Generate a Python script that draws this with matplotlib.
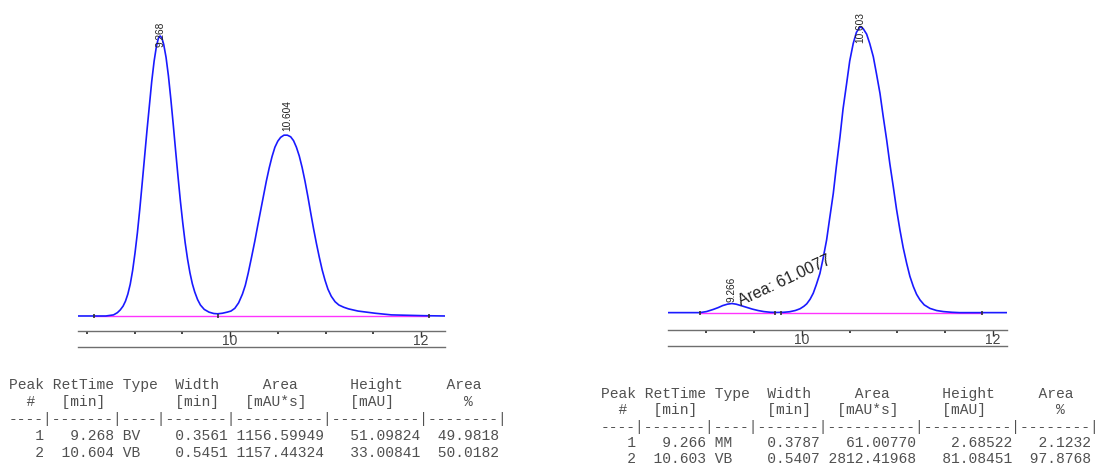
import matplotlib
matplotlib.use("Agg")
import matplotlib.pyplot as plt
from matplotlib.ticker import MultipleLocator, FixedLocator

# ---------------- data ----------------
left_time = [8.41, 8.70, 8.78, 8.82, 8.85, 8.88, 8.905, 8.93, 8.955, 8.98, 9.005, 9.03,
             9.055, 9.08, 9.105, 9.13, 9.155, 9.18, 9.205, 9.23, 9.25, 9.268, 9.285,
             9.305, 9.33, 9.355, 9.38, 9.405, 9.43, 9.455, 9.48, 9.505, 9.53, 9.555,
             9.58, 9.605, 9.63, 9.66, 9.69, 9.73, 9.78, 9.83, 9.87, 9.92, 9.97,
             10.01, 10.05, 10.09, 10.13, 10.16, 10.19, 10.225, 10.26, 10.29, 10.32,
             10.35, 10.38, 10.41, 10.44, 10.47, 10.50, 10.53, 10.565, 10.60, 10.635,
             10.665, 10.695, 10.725, 10.755, 10.785, 10.815, 10.845, 10.875, 10.905,
             10.935, 10.965, 10.995, 11.025, 11.06, 11.10, 11.14, 11.19, 11.24, 11.34,
             11.52, 11.69, 12.04, 12.25]
left_signal = [0.0, 0.0, 0.2, 0.6, 1.1, 1.8, 2.7, 4.0, 5.8, 8.3, 11.5, 15.2,
               19.5, 24.2, 29.0, 33.8, 38.3, 42.8, 46.5, 49.3, 50.7, 51.1, 50.8,
               49.6, 47.2, 43.8, 39.6, 35.0, 30.2, 25.5, 21.0, 17.0, 13.4, 10.4,
               7.9, 5.9, 4.4, 3.0, 2.0, 1.2, 0.7, 0.45, 0.4, 0.5, 0.7,
               0.9, 1.4, 2.4, 4.0, 5.6, 7.8, 10.7, 13.7, 16.5, 19.2,
               21.9, 24.6, 27.0, 29.1, 30.8, 31.9, 32.6, 33.0, 33.0, 32.7,
               32.0, 30.8, 29.2, 27.1, 24.6, 21.8, 18.8, 15.9, 13.2,
               10.7, 8.4, 6.5, 4.9, 3.6, 2.6, 2.0, 1.6, 1.3, 0.9,
               0.5, 0.2, 0.05, 0.0]

right_time = [8.60, 8.93, 9.00, 9.07, 9.12, 9.17, 9.22, 9.266, 9.31, 9.36, 9.42, 9.48,
              9.54, 9.60, 9.67, 9.74, 9.81, 9.87, 9.93, 9.98, 10.02, 10.05, 10.085,
              10.118, 10.15, 10.188, 10.22, 10.258, 10.29, 10.328, 10.36, 10.398, 10.43,
              10.468, 10.50, 10.537, 10.57, 10.607, 10.64, 10.677, 10.71, 10.747, 10.78,
              10.817, 10.85, 10.887, 10.92, 10.956, 10.99, 11.026, 11.06, 11.096, 11.13,
              11.166, 11.20, 11.236, 11.28, 11.34, 11.41, 11.48, 11.57, 11.65, 12.15]
right_signal = [0.1, 0.1, 0.4, 1.0, 1.5, 2.1, 2.5, 2.68, 2.5, 2.1, 1.6, 1.1,
                0.7, 0.4, 0.2, 0.15, 0.2, 0.35, 0.7, 1.2, 1.9, 2.6, 3.9,
                5.6, 8.0, 11.2, 15.3, 20.7, 26.8, 33.9, 41.5, 49.9, 57.8,
                65.1, 71.4, 76.4, 79.5, 81.08, 80.6, 79.0, 76.3, 72.6, 67.8,
                62.2, 55.8, 49.0, 42.3, 35.8, 29.4, 23.5, 18.5, 14.1, 10.4,
                7.5, 5.3, 3.7, 2.3, 1.3, 0.7, 0.4, 0.2, 0.1, 0.1]

left_rt = [9.268, 10.604]
left_height = [51.09824, 33.00841]
left_labels = ["9.268", "10.604"]
left_events = [8.575, 9.87, 12.08]

right_rt = [9.266, 10.603]
right_height = [2.68522, 81.08451]
right_labels = ["9.266", "10.603"]
right_events = [8.93, 9.72, 9.78, 11.88]
right_area_label = "Area: 61.0077"

tick_labels = ["10", "12"]
tick_values = [10, 12]

left_table = [
    "Peak RetTime Type  Width     Area      Height     Area",
    "  #   [min]        [min]   [mAU*s]     [mAU]        %",
    "----|-------|----|-------|----------|----------|--------|",
    "   1   9.268 BV    0.3561 1156.59949   51.09824  49.9818",
    "   2  10.604 VB    0.5451 1157.44324   33.00841  50.0182",
]
right_table = [
    "Peak RetTime Type  Width     Area      Height     Area",
    "  #   [min]        [min]   [mAU*s]     [mAU]        %",
    "----|-------|----|-------|----------|----------|--------|",
    "   1   9.266 MM    0.3787   61.00770    2.68522   2.1232",
    "   2  10.603 VB    0.5407 2812.41968   81.08451  97.8768",
]

# ---------------- figure ----------------
W, H = 1104, 463
fig = plt.figure(figsize=(W / 100, H / 100), dpi=100)

BLUE = "#1a1aff"
MAG = "#ff33ff"
GRAY = "#6e6e6e"
TXT = "#222222"
SANS = ["Liberation Sans", "DejaVu Sans"]


def px_axes(x0, x1, ytop, ybot):
    return fig.add_axes([x0 / W, 1 - ybot / H, (x1 - x0) / W, (ybot - ytop) / H])


def style_axis(ax, xlim, ylim):
    ax.set_xlim(*xlim)
    ax.set_ylim(*ylim)
    for s in ("top", "left", "right"):
        ax.spines[s].set_visible(False)
    ax.spines["bottom"].set_color(GRAY)
    ax.spines["bottom"].set_linewidth(1.0)
    ax.set_yticks([])
    ax.xaxis.set_major_locator(FixedLocator(tick_values))
    ax.set_xticklabels(tick_labels)
    ax.xaxis.set_minor_locator(MultipleLocator(0.5))
    ax.tick_params(axis="x", which="major", direction="out", length=4, width=1.0,
                   color="#333333", pad=-1.8, labelsize=10, labelcolor="#444444")
    ax.tick_params(axis="x", which="minor", direction="out", length=2, width=1.3,
                   color="#333333")
    for lab in ax.get_xticklabels():
        lab.set_family(SANS)
    ax.plot([0, 1], [-0.05, -0.05], transform=ax.transAxes, color=GRAY, lw=1.0,
            clip_on=False)
    ax.patch.set_alpha(0)


# ---- left chromatogram ----
axL = px_axes(78, 445, 10, 331)
style_axis(axL, (8.408, 12.251), (-2.74, 55.84))
axL.plot([left_events[0], left_events[-1]], [0, 0], color=MAG, lw=1.0, zorder=2)
axL.plot(left_time, left_signal, color=BLUE, lw=1.2, zorder=3)
axL.plot(left_events, [0] * len(left_events), ls="none", marker="|", ms=3,
         mew=1.2, color="#333333", zorder=4)
axL.text(left_rt[0], 53.8, left_labels[0], rotation=90, ha="center", va="top",
         fontsize=7.3, family=SANS, color=TXT, zorder=5)
axL.text(left_rt[1], left_height[1] + 0.7, left_labels[1], rotation=90, ha="center",
         va="bottom", fontsize=7.3, family=SANS, color=TXT, zorder=5)

# ---- right chromatogram ----
axR = px_axes(668, 1007, 10, 330)
style_axis(axR, (8.597, 12.147), (-4.82, 85.84))
axR.plot([right_events[0], right_events[1]], [0, 0], color=MAG, lw=1.0, zorder=2)
axR.plot([right_events[2], right_events[3]], [0, 0], color=MAG, lw=1.0, zorder=2)
axR.plot(right_time, right_signal, color=BLUE, lw=1.2, zorder=3)
axR.plot(right_events, [0] * len(right_events), ls="none", marker="|", ms=3,
         mew=1.2, color="#333333", zorder=4)
axR.text(right_rt[0], right_height[0] + 0.4, right_labels[0], rotation=90, ha="center",
         va="bottom", fontsize=7.3, family=SANS, color=TXT, zorder=5)
axR.text(right_rt[1] + 0.01, 85.3, right_labels[1], rotation=90, ha="center", va="top",
         fontsize=7.3, family=SANS, color=TXT, zorder=5)
axR.text(9.37, 1.2, right_area_label, rotation=25, rotation_mode="anchor",
         ha="left", va="bottom", fontsize=11.5, family=SANS, color=TXT, zorder=5)

# ---- result tables ----
MONO = ["Liberation Mono", "DejaVu Sans Mono"]
for i, line in enumerate(left_table):
    fig.text(9 / W, 1 - (385 + 17 * i) / H, line, family=MONO, fontsize=10.5,
             color="#505050", ha="left", va="center")
for i, line in enumerate(right_table):
    fig.text(601 / W, 1 - (394 + 16.3 * i) / H, line, family=MONO, fontsize=10.5,
             color="#505050", ha="left", va="center")

fig.savefig("out.png", dpi=100)
